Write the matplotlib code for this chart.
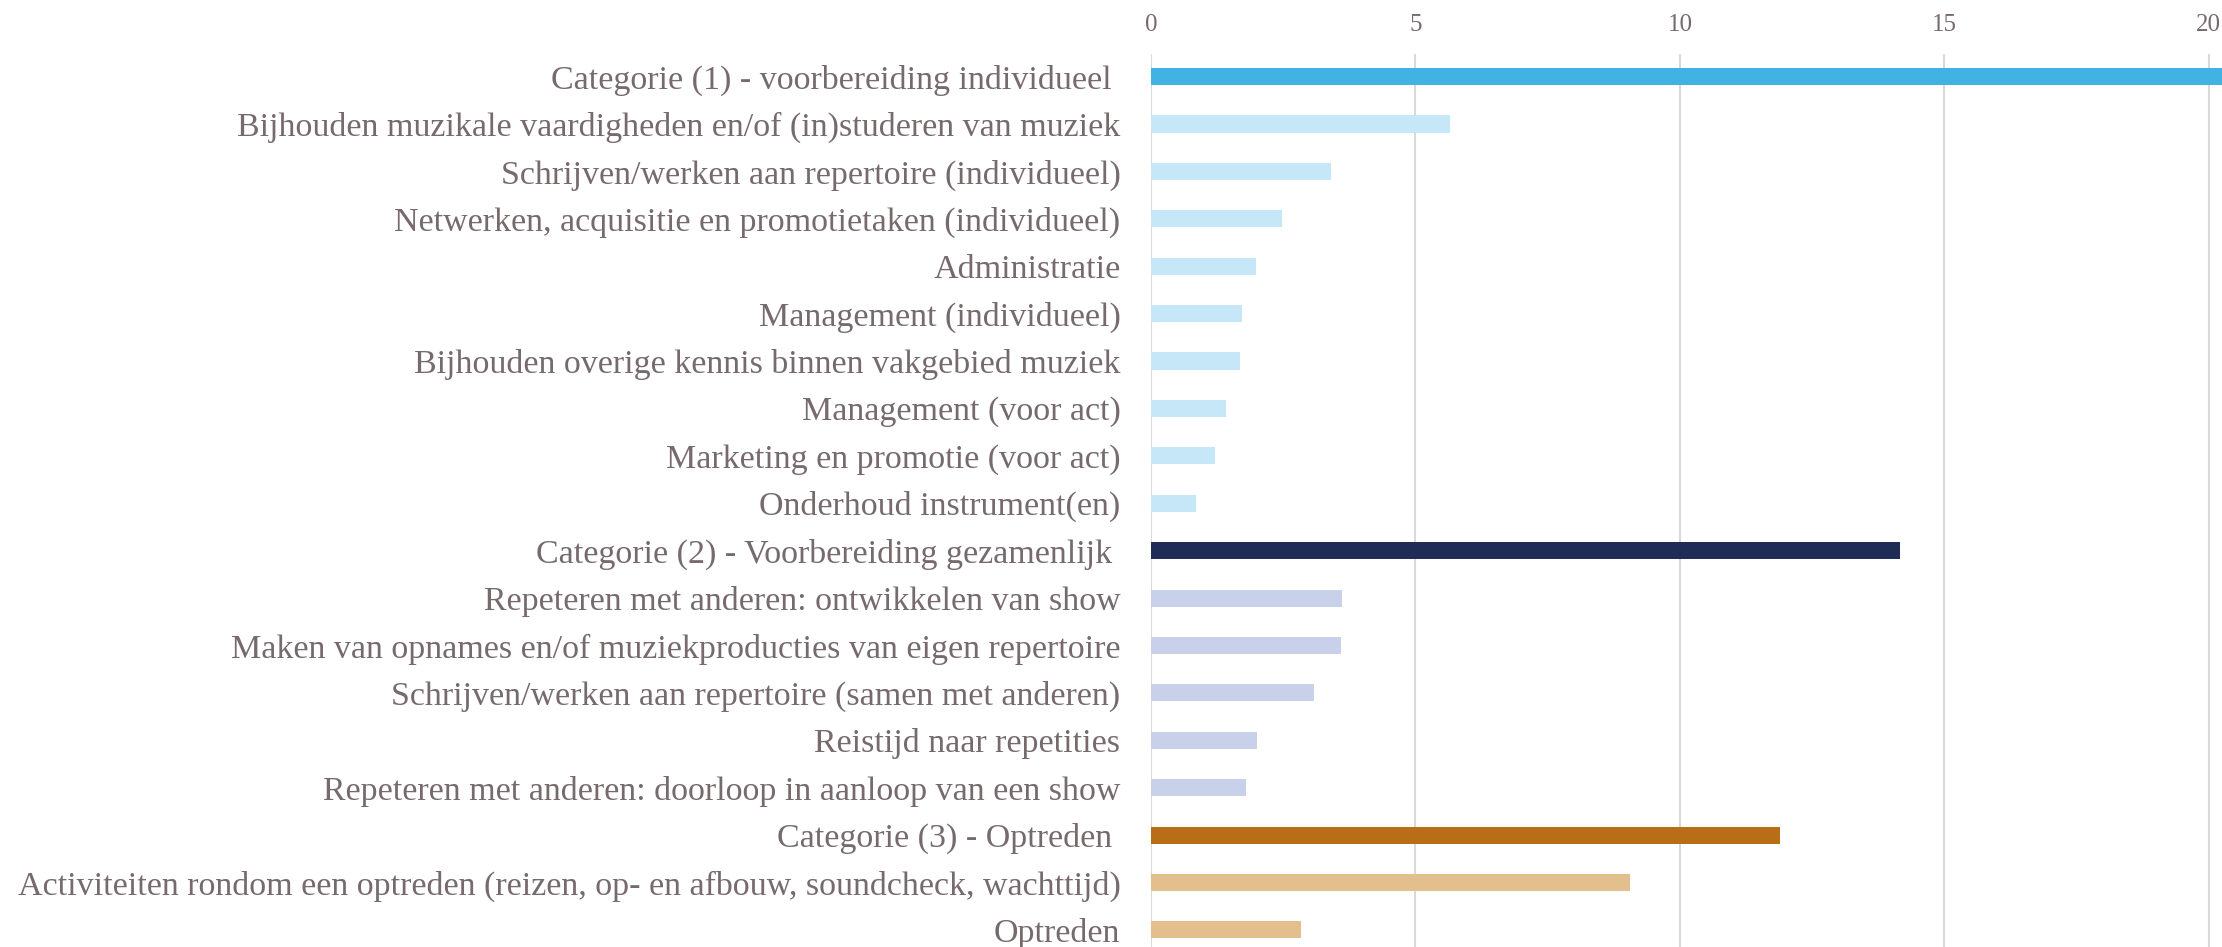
import matplotlib
matplotlib.use("Agg")
import matplotlib.pyplot as plt

labels = [
    "Categorie (1) - voorbereiding individueel ",
    "Bijhouden muzikale vaardigheden en/of (in)studeren van muziek",
    "Schrijven/werken aan repertoire (individueel)",
    "Netwerken, acquisitie en promotietaken (individueel)",
    "Administratie",
    "Management (individueel)",
    "Bijhouden overige kennis binnen vakgebied muziek",
    "Management (voor act)",
    "Marketing en promotie (voor act)",
    "Onderhoud instrument(en)",
    "Categorie (2) - Voorbereiding gezamenlijk ",
    "Repeteren met anderen: ontwikkelen van show",
    "Maken van opnames en/of muziekproducties van eigen repertoire",
    "Schrijven/werken aan repertoire (samen met anderen)",
    "Reistijd naar repetities",
    "Repeteren met anderen: doorloop in aanloop van een show",
    "Categorie (3) - Optreden ",
    "Activiteiten rondom een optreden (reizen, op- en afbouw, soundcheck, wachttijd)",
    "Optreden",
]
values = [20.4, 5.66, 3.40, 2.47, 1.98, 1.72, 1.69, 1.42, 1.21, 0.86,
          14.16, 3.62, 3.59, 3.08, 2.01, 1.80,
          11.9, 9.06, 2.84]
groups = [0] * 10 + [1] * 6 + [2] * 3
is_cat = [True] + [False] * 9 + [True] + [False] * 5 + [True, False, False]
xticks = [0, 5, 10, 15, 20]

cat_colors = ["#41B3E3", "#1F2D56", "#B86E16"]
sub_colors = ["#C6E7F8", "#C8D0EA", "#E4BF8E"]
text_color = "#766A6D"

colors = [cat_colors[g] if c else sub_colors[g] for g, c in zip(groups, is_cat)]

fig = plt.figure(figsize=(22.22, 9.47), dpi=100)
ax = fig.add_axes([1151 / 2222, 0.0, 1 - 1151 / 2222, 1 - 54 / 947])

ypos = list(range(len(labels)))
ax.barh(ypos, values, height=0.36, color=colors, zorder=3)
ax.set_xlim(0, 20.25)
ax.set_ylim(18.36, -0.476)
ax.set_xticks(xticks)
ax.set_yticks(ypos)
ax.set_yticklabels(labels)
ax.xaxis.tick_top()
ax.tick_params(axis="x", length=0, pad=13, labelsize=18, labelcolor=text_color)
ax.tick_params(axis="y", length=0, pad=22, labelsize=24.5, labelcolor=text_color)
for t in ax.get_xticklabels() + ax.get_yticklabels():
    t.set_family(["Liberation Serif", "DejaVu Serif"])
ax.grid(axis="x", color="#D9D9D9", linewidth=1.5, zorder=0)
ax.grid(axis="y", visible=False)
for s in ax.spines.values():
    s.set_visible(False)

fig.savefig("out.png", dpi=100)
